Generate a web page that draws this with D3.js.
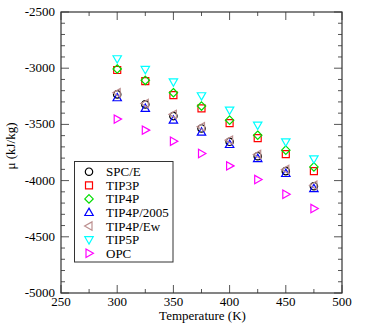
<!DOCTYPE html>
<html>
<head>
<meta charset="utf-8">
<script src="https://cdn.jsdelivr.net/npm/d3@7"></script>
<style>
  body { margin: 0; background: #fff; }
  text { font-family: "Liberation Serif", "DejaVu Serif", serif; }
</style>
</head>
<body>
<div id="chart"></div>
<script>
// data
var temps = [300, 325, 350, 375, 400, 425, 450, 475];
var models = ["SPC/E", "TIP3P", "TIP4P", "TIP4P/2005", "TIP4P/Ew", "TIP5P", "OPC"];
var spce    = [-3233, -3322, -3426, -3536, -3655, -3783, -3916, -4050];
var tip3p   = [-3016, -3115, -3239, -3358, -3489, -3622, -3765, -3916];
var tip4p   = [-3007, -3108, -3218, -3337, -3462, -3596, -3729, -3878];
var tip4p2005 = [-3263, -3358, -3462, -3569, -3679, -3804, -3937, -4071];
var tip4pew = [-3219, -3314, -3411, -3521, -3640, -3768, -3902, -4041];
var tip5p   = [-2916, -3011, -3121, -3245, -3373, -3506, -3655, -3806];
var opc     = [-3453, -3551, -3649, -3759, -3869, -3991, -4121, -4249];
var xTicks = [250, 300, 350, 400, 450, 500];
var yTicks = [-2500, -3000, -3500, -4000, -4500, -5000];

var width = 371, height = 327;
var pLeft = 61, pRight = 342, pTop = 12, pBottom = 293;

var series = [spce, tip3p, tip4p, tip4p2005, tip4pew, tip5p, opc];
var colors = ["#000000", "#ff0000", "#00dd00", "#0000ff", "#bc8f8f", "#00ffff", "#ff00ff"];
var shapes = ["circle", "square", "diamond", "up", "left", "down", "right"];

var svg = d3.select("#chart").append("svg")
    .attr("width", width).attr("height", height);

var xScale = d3.scaleLinear().domain([250, 500]).range([pLeft, pRight]);
var yScale = d3.scaleLinear().domain([-5000, -2500]).range([pBottom, pTop]);

function symbolPath(shape) {
    var s = 4.2;
    if (shape == "circle") return d3.symbol().type(d3.symbolCircle).size(Math.PI * 3.7 * 3.7)();
    if (shape == "square") return "M-3.5,-3.5h7v7h-7z";
    if (shape == "diamond") return "M0," + (-s) + "L" + s + ",0L0," + s + "L" + (-s) + ",0Z";
    if (shape == "up") return "M0,-4.4L4.2,3L-4.2,3Z";
    if (shape == "down") return "M0,4.4L4.2,-3L-4.2,-3Z";
    if (shape == "left") return "M-4.4,0L3,-4.2L3,4.2Z";
    if (shape == "right") return "M4.4,0L-3,-4.2L-3,4.2Z";
}

// axes: ticks on all four sides, pointing inward
var xMinor = d3.range(250, 501, 25);
var yMinor = d3.range(-5000, -2499, 100);

var g = svg.append("g");
xMinor.forEach(function (v) {
    var major = v % 50 == 0;
    var len = major ? 8 : 4;
    g.append("line").attr("x1", xScale(v)).attr("x2", xScale(v))
        .attr("y1", pBottom).attr("y2", pBottom - len).attr("stroke", "#555");
    g.append("line").attr("x1", xScale(v)).attr("x2", xScale(v))
        .attr("y1", pTop).attr("y2", pTop + len).attr("stroke", "#555");
});
yMinor.forEach(function (v) {
    var major = v % 500 == 0;
    var len = major ? 8 : 4;
    g.append("line").attr("y1", yScale(v)).attr("y2", yScale(v))
        .attr("x1", pLeft).attr("x2", pLeft + len).attr("stroke", "#555");
    g.append("line").attr("y1", yScale(v)).attr("y2", yScale(v))
        .attr("x1", pRight).attr("x2", pRight - len).attr("stroke", "#555");
});

svg.append("rect").attr("x", pLeft).attr("y", pTop)
    .attr("width", pRight - pLeft).attr("height", pBottom - pTop)
    .attr("fill", "none").attr("stroke", "#333").attr("stroke-width", 1.2);

svg.selectAll(".xlab").data(xTicks).enter().append("text")
    .attr("x", d => xScale(d)).attr("y", pBottom + 13)
    .attr("text-anchor", "middle").style("font-size", "13px")
    .text(d => d);

svg.selectAll(".ylab").data(yTicks).enter().append("text")
    .attr("x", pLeft - 6).attr("y", d => yScale(d) + 4)
    .attr("text-anchor", "end").style("font-size", "13px")
    .text(d => d);

svg.append("text").attr("x", (pLeft + pRight) / 2 + 1).attr("y", 320)
    .attr("text-anchor", "middle").style("font-size", "13px")
    .text("Temperature (K)");

svg.append("text").attr("transform", "translate(15,146) rotate(-90)")
    .attr("text-anchor", "middle").style("font-size", "13px")
    .text("μ (kJ/kg)");

// points
series.forEach(function (vals, i) {
    svg.append("g").selectAll("path").data(vals).enter().append("path")
        .attr("transform", (d, j) => "translate(" + xScale(temps[j]) + "," + yScale(d) + ")")
        .attr("d", symbolPath(shapes[i]))
        .attr("fill", "none").attr("stroke", colors[i]).attr("stroke-width", 1.2);
});

// legend
var lg = svg.append("g");
lg.append("rect").attr("x", 74.5).attr("y", 161.5).attr("width", 98.5).attr("height", 100.5)
    .attr("fill", "white").attr("stroke", "#333").attr("stroke-width", 1);
models.forEach(function (m, i) {
    var yy = 171.7 + i * 13.6;
    lg.append("path").attr("transform", "translate(89," + yy + ")")
        .attr("d", symbolPath(shapes[i]))
        .attr("fill", "none").attr("stroke", colors[i]).attr("stroke-width", 1.2);
    lg.append("text").attr("x", 106).attr("y", yy + 4.5)
        .style("font-size", "13px").text(m);
});
</script>
</body>
</html>
